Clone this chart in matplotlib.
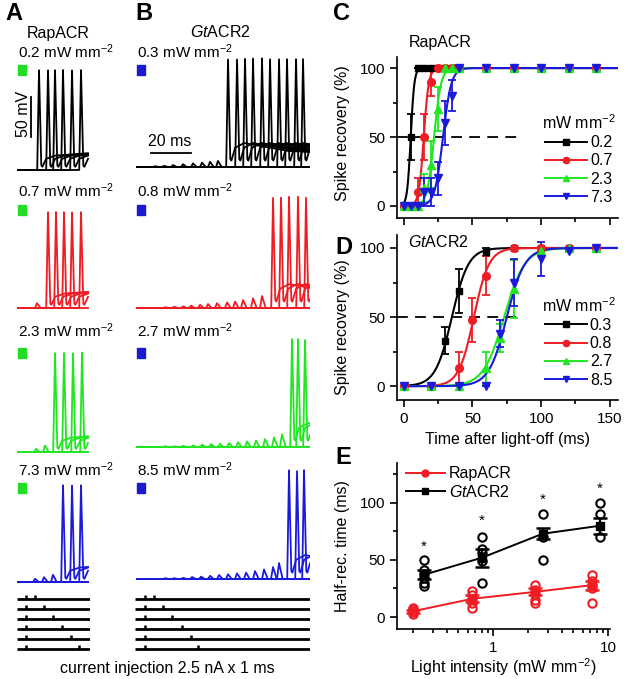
import numpy as np
import matplotlib
matplotlib.use("Agg")
import matplotlib.pyplot as plt
from matplotlib.lines import Line2D
from matplotlib.patches import Rectangle

plt.rcParams['font.family'] = ['Liberation Sans', 'DejaVu Sans']
plt.rcParams['mathtext.fontset'] = 'custom'
plt.rcParams['mathtext.rm'] = 'Liberation Sans'
plt.rcParams['mathtext.it'] = 'Liberation Sans:italic'
plt.rcParams['mathtext.bf'] = 'Liberation Sans:bold'
plt.rcParams['font.size'] = 11.5
plt.rcParams['xtick.labelsize'] = 11
plt.rcParams['ytick.labelsize'] = 11
plt.rcParams['legend.fontsize'] = 11.5

# ---------------- data ----------------
colors = ['black', '#ee1c24', '#22e622', '#1a1adc']
A_int = ['0.2', '0.7', '2.3', '7.3']
B_int = ['0.3', '0.8', '2.7', '8.5']

# example traces: event times (ms after sweep start) and sizes (mV)
A_bump_t = [[], [10], [9.5, 14], [9, 13.5, 18]]
A_bump_v = [[], [6], [4, 8], [4, 6, 9]]
A_spike_t = [[11, 15.5, 19, 23, 27.5, 32], [15.5, 19.5, 23.5, 27.5, 32],
             [19, 23.5, 28, 32.5], [23, 27.5, 32]]
A_amp = [125, 120, 124, 121]

B_bump_t = [[10, 14.5, 19, 24, 29, 33.5, 37.5, 41.5],
            [15, 19.5, 24, 28, 32.5, 36.5, 41, 46, 50, 54, 59, 63.5],
            [15, 19.5, 24, 29, 33.5, 38, 42.5, 47, 51.5, 56, 60.5, 65, 69.5, 73.5],
            [15, 19.5, 24, 28.5, 33, 37.5, 42, 46.5, 51, 55.5, 60, 64.5, 69, 72]]
B_bump_v = [[1, 1.5, 2.5, 3.5, 4.5, 5.5, 6.5, 7.5],
            [1, 1.5, 2, 3, 4, 5, 6, 7, 8, 10, 12, 15],
            [1, 1, 1.5, 2, 3, 3.5, 4, 5, 6, 7, 8, 10, 12, 16],
            [1, 1, 1.5, 2.5, 3, 4, 5, 6, 7, 8, 10, 12, 15, 20]]
B_spike_t = [[46.5, 51, 55, 59, 63.5, 67.5, 72, 76, 80.5, 84],
             [69, 73, 77, 81.5, 85.5],
             [78.5, 81.5, 85],
             [77, 81, 84.5]]
B_amp = [136, 139, 135, 136]

# current injection pulses (ms)
A_pulse1 = 4.5
A_pulse2 = [9, 13.5, 18, 22.5, 27, 31]
B_pulse1 = 5
B_pulse2 = [9.5, 14, 18.5, 23.5, 28, 31.5]

# spike / bump templates
SPIKE_DT = [-0.9, 0.0, 1.1, 1.7, 3.5, 8.0, 30.0, 90.0]
A_TAIL = [6, 4, 14, 18, 22, 24]
B_TAIL = [10, 8, 24, 30, 20, 14]
BUMP_DT = [-1.0, 0.0, 1.8]

# C: RapACR spike recovery
C_t = [0, 5, 10, 15, 20, 25, 30, 35, 40, 60, 80, 100, 120, 140]
C_y = [[0, 50, 100, 100, 100, 100, 100, 100, 100, 100, 100, 100, 100, 100],
       [0, 0, 10, 50, 90, 100, 100, 100, 100, 100, 100, 100, 100, 100],
       [0, 0, 0, 13, 30, 70, 100, 100, 100, 100, 100, 100, 100, 100],
       [0, 0, 0, 10, 10, 20, 60, 80, 100, 100, 100, 100, 100, 100]]
C_err = [[0, 17, 0, 0, 0, 0, 0, 0, 0, 0, 0, 0, 0, 0],
         [0, 0, 10, 17, 10, 0, 0, 0, 0, 0, 0, 0, 0, 0],
         [0, 0, 0, 10, 17, 16, 0, 0, 0, 0, 0, 0, 0, 0],
         [0, 0, 0, 10, 10, 12, 16, 11, 0, 0, 0, 0, 0, 0]]
C_t50 = [5, 14.5, 22, 28.5]
C_k = [1.3, 1.8, 2.5, 3.0]

# D: GtACR2 spike recovery
D_t = [0, 20, 30, 40, 50, 60, 70, 80, 100, 120, 140]
D_y = [[0, 0, 33, 69, 93, 97, 100, 100, 100, 100, 100],
       [0, 0, 1, 13, 48, 80, 96, 100, 100, 100, 100],
       [0, 0, 0, 0, 4, 13, 35, 70, 98, 100, 100],
       [0, 0, 0, 0, 0, 0, 38, 75, 92, 98, 100]]
D_err = [[0, 0, 10, 16, 0, 3, 0, 0, 0, 0, 0],
         [0, 0, 0, 12, 16, 14, 0, 0, 0, 0, 0],
         [0, 0, 0, 0, 0, 12, 10, 21, 3, 0, 0],
         [0, 0, 0, 0, 0, 0, 10, 17, 12, 0, 0]]
D_t50 = [35, 51, 73, 75]
D_k = [6, 5.5, 7.5, 6.5]
D_show = [[0, 1, 2, 3, 5, 7, 8, 9, 10], [0, 1, 3, 4, 5, 7, 8, 9, 10],
          [0, 1, 3, 5, 6, 7, 8, 9, 10], [0, 1, 3, 5, 6, 7, 8, 9, 10]]

# E: half-recovery time
E_rap_x = [0.2, 0.66, 2.3, 7.3]
E_rap_mean = [5, 16, 22, 28]
E_rap_sem = [1.5, 3, 3, 4]
E_rap_cells = [[3, 5, 7, 8, 4], [23, 19, 16, 12, 8], [28, 24, 20, 15, 12], [37, 32, 28, 25, 12]]
E_gt_x = [0.25, 0.8, 2.7, 8.5]
E_gt_mean = [37, 52, 73, 80]
E_gt_sem = [4, 8, 5, 7]
E_gt_cells = [[50, 41, 38, 34, 30, 27], [70, 60, 56, 49, 30], [90, 70, 50], [100, 90, 70]]
E_star_y = [62, 84, 103, 112]

# ---------------- layout helpers ----------------
W, H = 625, 679
fig = plt.figure(figsize=(W / 100, H / 100), dpi=100)


def box(x0, y0, x1, y1):
    return [x0 / W, 1 - y1 / H, (x1 - x0) / W, (y1 - y0) / H]


def ftext(x, y, s, **kw):
    fig.text(x / W, 1 - y / H, s, **kw)


def sweep(t, bump_t=None, bump_v=None, spike_t=None, amp=0, tail=None):
    v = np.zeros_like(t)
    if bump_t is not None:
        v += np.interp(t - bump_t, BUMP_DT, [0, bump_v, 0], left=0, right=0)
    if spike_t is not None:
        vals = [0, amp] + tail
        v += np.interp(t - spike_t, SPIKE_DT, vals, left=0, right=vals[-1])
    return v


MV_PX = 0.8   # px per mV
A_base_px = [170, 308, 452, 582]
B_base_px = [167, 308, 447, 579]
sq_top = [65, 205, 348, 483]
lab_base = [58, 197, 337, 476]

# ---------------- A and B traces ----------------
for col in range(2):
    x0, x1, tend = (17, 90, 36.5) if col == 0 else (135, 310, 87.5)
    bases = A_base_px if col == 0 else B_base_px
    ints = A_int if col == 0 else B_int
    for r in range(4):
        b = bases[r]
        ax = fig.add_axes(box(x0, b - 140 * MV_PX, x1, b + 10 * MV_PX))
        ax.set_xlim(0, tend)
        ax.set_ylim(-10, 140)
        ax.axis('off')
        t = np.linspace(0.5 if col == 0 else 1.0, tend - (1 if col == 0 else 0), 3000)
        if col == 0:
            bt, bv, st, amp, tail = A_bump_t[r], A_bump_v[r], A_spike_t[r], A_amp[r], A_TAIL
        else:
            bt, bv, st, amp, tail = B_bump_t[r], B_bump_v[r], B_spike_t[r], B_amp[r], B_TAIL
        for tb, vb in zip(bt, bv):
            ax.plot(t, sweep(t, tb, vb), color=colors[r], lw=1.3)
        for ts in st:
            ax.plot(t, sweep(t, spike_t=ts, amp=amp, tail=tail), color=colors[r], lw=1.3)
        if col == 0 and r == 0:
            ax.plot([6.75, 6.75], [41, 91], color='black', lw=1.3, clip_on=False)
        if col == 1 and r == 0:
            ax.plot([8, 28], [17.5, 17.5], color='black', lw=1.3, clip_on=False)
        # light square and intensity label
        sx = 18 if col == 0 else 137
        sq_col = '#22dd22' if col == 0 else '#1a1ad0'
        fig.add_artist(Rectangle((sx / W, 1 - (sq_top[r] + 10) / H), 8 / W, 10 / H,
                                 transform=fig.transFigure, color=sq_col))
        ftext(sx, lab_base[r], ints[r] + ' mW mm$^{-2}$', va='baseline', ha='left', fontsize=11)

ftext(23, 114, '50 mV', rotation=90, ha='center', va='center')
ftext(170, 142, '20 ms', ha='center', va='center')
ftext(58, 38, 'RapACR', ha='center', va='baseline')
ftext(220, 37, '$\\mathit{Gt}$ACR2', ha='center', va='baseline')

# current injection protocol
for col in range(2):
    x0, x1, tend = (17, 90, 36.5) if col == 0 else (135, 310, 87.5)
    p1 = A_pulse1 if col == 0 else B_pulse1
    p2 = A_pulse2 if col == 0 else B_pulse2
    ax = fig.add_axes(box(x0, 589, x1, 654))
    ax.set_xlim(0, tend)
    ax.set_ylim(5.5, -1.0)
    ax.axis('off')
    for i, tp in enumerate(p2):
        ax.plot([0, tend], [i, i], color='black', lw=2.0, solid_capstyle='butt')
        for tt in (p1, tp):
            ax.plot([tt, tt], [i, i - 0.45], color='black', lw=1.8, solid_capstyle='butt')
ftext(167, 668, 'current injection 2.5 nA x 1 ms', ha='center', va='center')

# ---------------- C and D ----------------
def style_rec(ax, ylim):
    ax.set_xlim(-5, 156)
    ax.set_ylim(*ylim)
    for s in ('top', 'right'):
        ax.spines[s].set_visible(False)
    for s in ('left', 'bottom'):
        ax.spines[s].set_linewidth(1.2)
    ax.set_xticks([0, 50, 100, 150])
    ax.set_xticks([25, 75, 125], minor=True)
    ax.set_yticks([0, 50, 100])
    ax.set_yticks([25, 75], minor=True)
    ax.tick_params(which='major', direction='out', length=5, width=1.2)
    ax.tick_params(which='minor', direction='out', length=3, width=1.2)
    ax.plot([-5, 86], [50, 50], color='black', lw=1.3, dashes=(6, 4))
    ax.set_ylabel('Spike recovery (%)')


markers = ['s', 'o', '^', 'v']
msizes = [5, 5.5, 6, 6]

axC = fig.add_axes(box(397, 57, 618, 218))
style_rec(axC, (-8.7, 108))
axC.set_xticklabels([])
tfit = np.linspace(0, 156, 600)
for i in range(4):
    axC.plot(tfit, 100 / (1 + np.exp(-(tfit - C_t50[i]) / C_k[i])), color=colors[i], lw=1.5)
    axC.errorbar(C_t, C_y[i], yerr=C_err[i], fmt=markers[i], color=colors[i], ms=msizes[i],
                 capsize=3, elinewidth=1.3, capthick=1.3)
axC.yaxis.set_label_coords(-0.213, 0.53)
ftext(440, 43, 'RapACR', ha='center', va='center')
handles = [Line2D([], [], color=colors[i], marker=markers[i], ms=4.5, lw=1.4) for i in range(4)]
axC.legend(handles, A_int, title='mW mm$^{-2}$', loc='upper left', bbox_to_anchor=(0.655, 0.65),
           frameon=False, handlelength=2.6, handletextpad=0.2, labelspacing=0.2,
           borderpad=0, borderaxespad=0, title_fontsize=11.5)

axD = fig.add_axes(box(397, 235, 618, 400))
style_rec(axD, (-10, 109.4))
for i in range(4):
    axD.plot(tfit, 100 / (1 + np.exp(-(tfit - D_t50[i]) / D_k[i])), color=colors[i], lw=1.5)
    idx = D_show[i]
    axD.errorbar([D_t[j] for j in idx], [D_y[i][j] for j in idx], yerr=[D_err[i][j] for j in idx],
                 fmt=markers[i], color=colors[i], ms=msizes[i], capsize=3, elinewidth=1.3, capthick=1.3)
axD.yaxis.set_label_coords(-0.213, 0.44)
axD.set_xlabel('Time after light-off (ms)')
axD.xaxis.set_label_coords(0.5, -0.195)
axD.text(0.05, 0.96, '$\\mathit{Gt}$ACR2', transform=axD.transAxes, ha='left', va='center')
handles = [Line2D([], [], color=colors[i], marker=markers[i], ms=4.5, lw=1.4) for i in range(4)]
axD.legend(handles, B_int, title='mW mm$^{-2}$', loc='upper left', bbox_to_anchor=(0.655, 0.63),
           frameon=False, handlelength=2.6, handletextpad=0.2, labelspacing=0.2,
           borderpad=0, borderaxespad=0, title_fontsize=11.5)

# ---------------- E ----------------
axE = fig.add_axes(box(397, 463, 610, 629))
axE.set_xscale('log')
axE.set_xlim(0.146, 10.4)
axE.set_ylim(-10.5, 135)
for s in ('top', 'right'):
    axE.spines[s].set_visible(False)
for s in ('left', 'bottom'):
    axE.spines[s].set_linewidth(1.2)
axE.set_xticks([1, 10])
axE.set_xticklabels(['1', '10'])
axE.set_xticks([0.2, 0.3, 0.4, 0.5, 0.6, 0.7, 0.8, 0.9, 2, 3, 4, 5, 6, 7, 8, 9], minor=True)
axE.set_xticklabels([], minor=True)
axE.set_yticks([0, 50, 100])
axE.set_yticks([25, 75, 125], minor=True)
axE.tick_params(which='major', direction='out', length=5, width=1.2)
axE.tick_params(which='minor', direction='out', length=3, width=1.2)

for x, cells in zip(E_rap_x, E_rap_cells):
    axE.plot([x] * len(cells), cells, 'o', mfc='none', mec='#ee1c24', mew=1.5, ms=6)
for x, cells in zip(E_gt_x, E_gt_cells):
    axE.plot([x] * len(cells), cells, 'o', mfc='none', mec='black', mew=1.5, ms=6)
axE.plot(E_rap_x, E_rap_mean, color='#ee1c24', lw=1.4)
axE.plot(E_gt_x, E_gt_mean, color='black', lw=1.4)
axE.errorbar(E_rap_x, E_rap_mean, yerr=E_rap_sem, fmt='o', color='#ee1c24', ms=6,
             capsize=5, elinewidth=1.6, capthick=1.8)
axE.errorbar(E_gt_x, E_gt_mean, yerr=E_gt_sem, fmt='s', color='black', ms=6,
             capsize=5, elinewidth=1.6, capthick=1.8)
for x, y in zip(E_gt_x, E_star_y):
    axE.text(x, y, '*', ha='center', va='center', fontsize=11)
axE.set_ylabel('Half-rec. time (ms)')
axE.yaxis.set_label_coords(-0.22, 0.5)
axE.set_xlabel('Light intensity (mW mm$^{-2}$)')
axE.xaxis.set_label_coords(0.5, -0.165)
hE = [Line2D([], [], color='#ee1c24', marker='o', ms=5, lw=1.4),
      Line2D([], [], color='black', marker='s', ms=5, lw=1.4)]
axE.legend(hE, ['RapACR', '$\\mathit{Gt}$ACR2'], loc='upper left', bbox_to_anchor=(0.04, 0.98),
           frameon=False, handlelength=2.5, handletextpad=0.2, labelspacing=0.15,
           borderpad=0, borderaxespad=0)

# panel letters
for lab, x, y in [('A', 5, 13), ('B', 135, 13), ('C', 333, 13), ('D', 335, 247), ('E', 335, 458)]:
    ftext(x, y, lab, fontsize=17, fontweight='bold', ha='left', va='center')

fig.savefig('out.png', dpi=100)
